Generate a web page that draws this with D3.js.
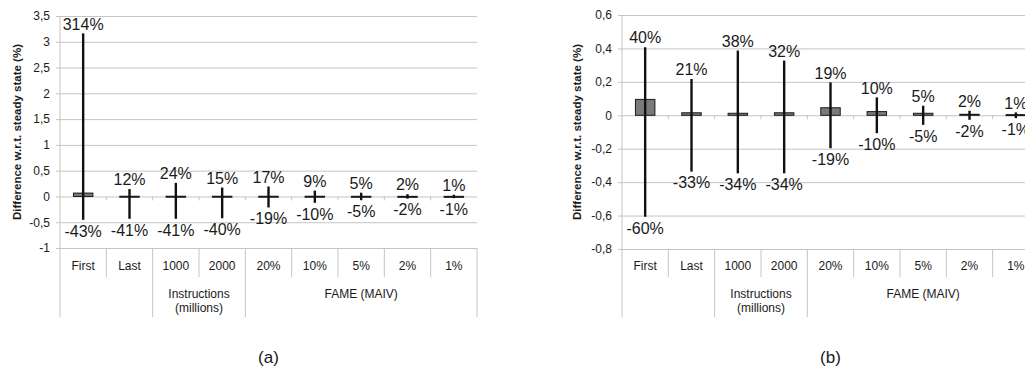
<!DOCTYPE html>
<html>
<head>
<meta charset="utf-8">
<script src="https://cdn.jsdelivr.net/npm/d3@7/dist/d3.min.js"></script>
<style>
  html, body { margin: 0; padding: 0; background: #fff; overflow: hidden; }
  svg { display: block; font-family: "Liberation Sans", Arial, sans-serif; }
</style>
</head>
<body>
<svg id="chart" width="1025" height="367"></svg>
<script>
// Categories along the x axis, and how they are grouped in the table below
const categories = ["First", "Last", "1000", "2000", "20%", "10%", "5%", "2%", "1%"];
const groupLabels = [[], ["Instructions", "(millions)"], ["FAME (MAIV)"]];
const groupSpans = [2, 2, 5];

// Panel (a): mean difference and min / max range
const meanA = [0.065, 0.004, 0.004, 0.004, 0.004, 0.004, 0.003, 0.002, 0.002];
const highA = [3.14, 0.12, 0.24, 0.15, 0.17, 0.09, 0.05, 0.02, 0.01];
const lowA  = [-0.43, -0.41, -0.41, -0.40, -0.19, -0.10, -0.05, -0.02, -0.01];
const ticksA = [-1, -0.5, 0, 0.5, 1, 1.5, 2, 2.5, 3, 3.5];

// Panel (b): mean difference and min / max range
const meanB = [0.095, 0.015, 0.012, 0.015, 0.045, 0.022, 0.012, 0.006, 0.004];
const highB = [0.40, 0.21, 0.38, 0.32, 0.19, 0.10, 0.05, 0.02, 0.01];
const lowB  = [-0.60, -0.33, -0.34, -0.34, -0.19, -0.10, -0.05, -0.02, -0.01];
const ticksB = [-0.8, -0.6, -0.4, -0.2, 0, 0.2, 0.4, 0.6];

const yTitle = "Difference w.r.t. steady state (%)";
const svg = d3.select("#chart");
const gridColor = "#c4c4c4";
const textColor = "#1a1a1a";

const fmtTick = v => String(+v.toFixed(1)).replace(".", ",");
const fmtPct = v => Math.round(v * 100) + "%";

function drawPanel(opt) {
  const g = svg.append("g");
  const x = d3.scaleBand().domain(categories).range([opt.left, opt.right]).paddingInner(0).paddingOuter(0);
  const y = d3.scaleLinear().domain([opt.ticks[0], opt.ticks[opt.ticks.length - 1]]).range([opt.bottom, opt.top]);
  const tableBottom = 317, innerBottom = 277;

  // horizontal gridlines (the lowest one is also the top of the category table)
  g.append("g")
    .attr("transform", `translate(${opt.left},0)`)
    .call(d3.axisLeft(y).tickValues(opt.ticks).tickFormat(fmtTick)
      .tickSize(-(opt.right - opt.left)).tickSizeOuter(0).tickPadding(6))
    .call(a => a.select(".domain").remove())
    .call(a => a.selectAll(".tick line").attr("stroke", gridColor).attr("x1", -4))
    .call(a => a.selectAll(".tick text").attr("fill", textColor)
      .style("font-size", "12px").attr("x", -10));

  // left and right edges of the plot and table
  g.append("line").attr("x1", opt.left).attr("x2", opt.left)
    .attr("y1", opt.top).attr("y2", tableBottom).attr("stroke", gridColor);
  g.append("line").attr("x1", opt.right).attr("x2", opt.right)
    .attr("y1", opt.bottom).attr("y2", tableBottom).attr("stroke", gridColor);

  // zero line tick marks at category boundaries
  categories.slice(1).forEach(c => {
    g.append("line").attr("x1", x(c)).attr("x2", x(c))
      .attr("y1", y(0)).attr("y2", y(0) + 4).attr("stroke", gridColor);
  });

  // table dividers: short ones inside a group, long ones between groups
  let idx = 0;
  const groupStarts = [];
  groupSpans.forEach(s => { groupStarts.push(idx); idx += s; });
  categories.forEach((c, i) => {
    if (i === 0) return;
    const full = groupStarts.includes(i);
    g.append("line").attr("x1", x(c)).attr("x2", x(c))
      .attr("y1", opt.bottom).attr("y2", full ? tableBottom : innerBottom)
      .attr("stroke", gridColor);
  });

  // category labels
  g.selectAll(".cat").data(categories).enter().append("text")
    .attr("x", d => x(d) + x.bandwidth() / 2).attr("y", 270)
    .attr("text-anchor", "middle").attr("fill", textColor)
    .style("font-size", "12px").text(d => d);

  // group labels
  groupLabels.forEach((lines, gi) => {
    const first = categories[groupStarts[gi]];
    const last = categories[groupStarts[gi] + groupSpans[gi] - 1];
    const cx = (x(first) + x(last) + x.bandwidth()) / 2;
    lines.forEach((t, li) => {
      g.append("text").attr("x", cx).attr("y", 298 + li * 14)
        .attr("text-anchor", "middle").attr("fill", textColor)
        .style("font-size", "12px").text(t);
    });
  });

  // bars
  const bw = x.bandwidth() * 0.42;
  g.selectAll(".bar").data(opt.mean).enter().append("rect")
    .attr("x", (d, i) => x(categories[i]) + (x.bandwidth() - bw) / 2)
    .attr("y", d => y(d))
    .attr("width", bw)
    .attr("height", d => Math.max(1, y(0) - y(d)))
    .attr("fill", "#7a7a7a").attr("stroke", "#1a1a1a").attr("stroke-width", 1);

  // min / max ranges
  g.selectAll(".err").data(opt.high).enter().append("line")
    .attr("x1", (d, i) => x(categories[i]) + x.bandwidth() / 2)
    .attr("x2", (d, i) => x(categories[i]) + x.bandwidth() / 2)
    .attr("y1", d => y(d))
    .attr("y2", (d, i) => y(opt.low[i]))
    .attr("stroke", "#111").attr("stroke-width", 2.4).attr("stroke-linecap", "square");

  // range labels
  g.selectAll(".hi").data(opt.high).enter().append("text")
    .attr("x", (d, i) => x(categories[i]) + x.bandwidth() / 2)
    .attr("y", d => y(d) - 5)
    .attr("text-anchor", "middle").attr("fill", textColor)
    .style("font-size", "16px").text(fmtPct);
  g.selectAll(".lo").data(opt.low).enter().append("text")
    .attr("x", (d, i) => x(categories[i]) + x.bandwidth() / 2)
    .attr("y", d => y(d) + 18)
    .attr("text-anchor", "middle").attr("fill", textColor)
    .style("font-size", "16px").text(fmtPct);

  // y axis title
  g.append("text")
    .attr("transform", `translate(${opt.titleX},${(opt.top + opt.bottom) / 2}) rotate(-90)`)
    .attr("text-anchor", "middle").attr("fill", textColor)
    .style("font-size", "11.5px").style("font-weight", "bold").text(yTitle);

  // panel caption
  g.append("text")
    .attr("x", (opt.left + opt.right) / 2).attr("y", 363)
    .attr("text-anchor", "middle").attr("fill", textColor)
    .style("font-size", "17px").text(opt.caption);
}

drawPanel({ left: 60, right: 477, top: 16, bottom: 248, ticks: ticksA,
  mean: meanA, high: highA, low: lowA, titleX: 21, caption: "(a)" });
drawPanel({ left: 622, right: 1039, top: 15, bottom: 249, ticks: ticksB,
  mean: meanB, high: highB, low: lowB, titleX: 581, caption: "(b)" });
</script>
</body>
</html>
